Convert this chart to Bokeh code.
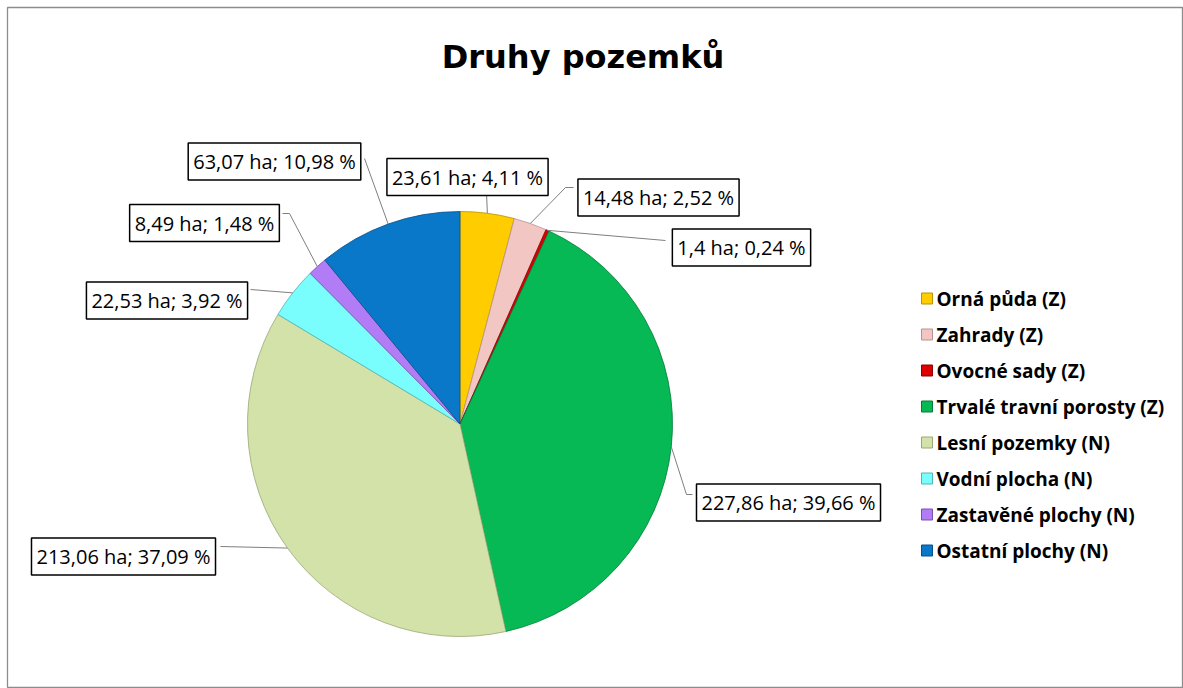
import math
from bokeh.plotting import figure
from bokeh.models import Range1d, ColumnDataSource, Label
from bokeh.core.properties import value
from bokeh.embed import file_html
from bokeh.resources import INLINE

# ---------------- data ----------------
title = "Druhy pozemků"
categories = ["Orná půda (Z)", "Zahrady (Z)", "Ovocné sady (Z)",
              "Trvalé travní porosty (Z)", "Lesní pozemky (N)",
              "Vodní plocha (N)", "Zastavěné plochy (N)", "Ostatní plochy (N)"]
areas_ha = [23.61, 14.48, 1.4, 227.86, 213.06, 22.53, 8.49, 63.07]

# ---------------- style / layout ----------------
colors = ["#FFCC00", "#F2C6C3", "#DE0000", "#06B955",
          "#D2E2A8", "#7AFDFD", "#B27CF6", "#0A78C8"]
edge_colors = ["#B89300", "#B89290", "#8E0000", "#047A38",
               "#9AA877", "#4EB5B5", "#7A50B0", "#05508A"]
W, H = 1183, 688
OFF = 7                                   # chart border offset (px)
CX, CY, R = 459.5, 423.5, 212.5           # pie centre / radius (screen px)
# label box centres (screen px) and leader line elbows (screen px)
label_pos = [(467, 176.5), (658, 197), (741, 247), (788, 502),
             (123, 556), (166.5, 300), (204, 222.5), (274, 161)]
leader_mid = [[], [(565, 187)], [], [(686, 494)],
              [], [], [(289, 213)], []]
leader_end = [(486, 192), (573, 187), (665, 240), (692, 494),
              (220, 546), (250, 289), (282, 213), (364, 158)]
LEG_X, LEG_Y0, LEG_DY = 926.5, 298, 36

def fmt(v, nd=None):
    s = (f"{v:.{nd}f}" if nd is not None else f"{v}")
    return s.replace(".", ",")

total = sum(areas_ha)
pcts = [v / total * 100 for v in areas_ha]
labels = [f"{fmt(v)} ha; {fmt(p, 2)} %" for v, p in zip(areas_ha, pcts)]

starts, ends, mids = [], [], []
cum = 0.0
for v in areas_ha:
    a0 = math.pi / 2 - 2 * math.pi * cum / total
    cum += v
    a1 = math.pi / 2 - 2 * math.pi * cum / total
    starts.append(a0)
    ends.append(a1)
    mids.append((a0 + a1) / 2)

p = figure(width=W, height=H, output_backend="svg", toolbar_location=None,
           x_range=Range1d(OFF, W), y_range=Range1d(-H, -OFF),
           x_axis_location=None, y_axis_location=None,
           min_border_left=OFF, min_border_top=OFF,
           min_border_right=0, min_border_bottom=0)
p.xgrid.visible = False
p.ygrid.visible = False
p.outline_line_color = "#8C8C8C"
p.outline_line_width = 1.3
p.background_fill_color = "white"
p.border_fill_color = "white"

src = ColumnDataSource(dict(start=starts, end=ends, color=colors,
                            edge=edge_colors, cat=categories))
p.wedge(x=CX, y=-CY, radius=R, start_angle="start", end_angle="end",
        direction="clock", fill_color="color", line_color="edge",
        line_width=1, line_alpha=0.8, source=src)

# leader lines
xs, ys = [], []
for i, a in enumerate(mids):
    ex = CX + R * math.cos(a)
    ey = -CY + R * math.sin(a)
    pts = [(ex, ey)] + [(x, -y) for x, y in leader_mid[i]] + \
          [(leader_end[i][0], -leader_end[i][1])]
    xs.append([q[0] for q in pts])
    ys.append([q[1] for q in pts])
p.multi_line(xs=xs, ys=ys, line_color="#7F7F7F", line_width=1)

# data labels
for (lx, ly), t in zip(label_pos, labels):
    p.add_layout(Label(x=lx, y=-ly, text=t, text_align="center",
                       text_baseline="middle", text_font="Open Sans",
                       text_font_size="20px", text_color="#000000",
                       background_fill_color="white",
                       border_line_color="#000000", border_line_width=1.5,
                       padding=5))

# legend
leg_y = [-(LEG_Y0 + LEG_DY * i) for i in range(len(categories))]
lsrc = ColumnDataSource(dict(x=[LEG_X] * len(categories), y=leg_y,
                             color=colors, edge=edge_colors, cat=categories,
                             tx=[LEG_X + 9.5] * len(categories)))
p.scatter(x="x", y="y", marker="square", size=11, fill_color="color",
          line_color="edge", line_width=1, source=lsrc)
p.text(x="tx", y="y", text="cat", text_font=value("Open Sans"),
       text_font_style="bold", text_font_size="19px", text_color="#000000",
       text_baseline="middle", text_align="left", source=lsrc)

# title
p.add_layout(Label(x=582.5, y=-56, text=title, text_align="center",
                   text_baseline="alphabetic", text_font="DejaVu Sans",
                   text_font_style="bold", text_font_size="32px",
                   text_color="#000000"))

open("out.html", "w").write(file_html(p, INLINE))
